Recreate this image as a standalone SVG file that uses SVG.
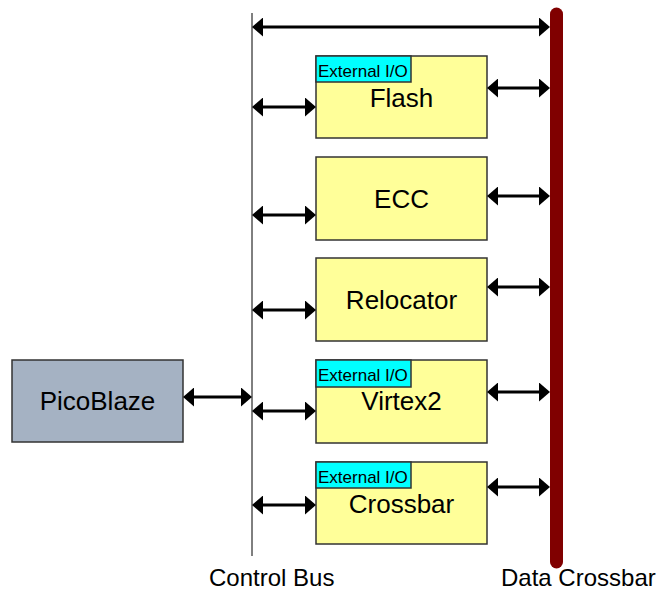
<svg xmlns="http://www.w3.org/2000/svg" width="664" height="599" viewBox="0 0 664 599">
<style>
text{font-family:"Liberation Sans",Arial,sans-serif;fill:#000}
.box{fill:#FFFF99;stroke:#333;stroke-width:1.5}
.pico{fill:#A5B2C3;stroke:#333;stroke-width:1.5}
.ext{fill:#00FFFF;stroke:#333;stroke-width:1.5}
.big{font-size:26px;text-anchor:middle}
.small{font-size:17px}
.lbl{font-size:24px}
.arr{stroke:#000;stroke-width:3;fill:none;marker-start:url(#ah);marker-end:url(#ah)}
</style>
<defs>
<marker id="ah" viewBox="0 0 11 19" refX="3" refY="9.5" markerWidth="11" markerHeight="19" markerUnits="userSpaceOnUse" orient="auto-start-reverse">
<path d="M0,0 L11,9.5 L0,19 z" fill="#000"/>
</marker>
</defs>
<g id="control-bus">
<line x1="252" y1="13" x2="252" y2="556" stroke="#000" stroke-width="1"/>
<text class="lbl" x="209" y="586">Control Bus</text>
</g>
<g id="data-crossbar">
<line x1="556.5" y1="14" x2="556.5" y2="562" stroke="#800000" stroke-width="13" stroke-linecap="round"/>
<text class="lbl" x="501" y="586">Data Crossbar</text>
</g>
<g id="flash">
<rect class="box" x="316" y="56" width="171" height="82"/>
<rect class="ext" x="316" y="56" width="95" height="26"/>
<text class="small" x="318" y="77">External I/O</text>
<text class="big" x="401.5" y="107">Flash</text>
</g>
<g id="ecc">
<rect class="box" x="316" y="157" width="171" height="83"/>
<text class="big" x="401.5" y="208">ECC</text>
</g>
<g id="relocator">
<rect class="box" x="316" y="258" width="171" height="83"/>
<text class="big" x="401.5" y="309">Relocator</text>
</g>
<g id="virtex2">
<rect class="box" x="316" y="360" width="171" height="83"/>
<rect class="ext" x="316" y="360" width="95" height="27"/>
<text class="small" x="318" y="381">External I/O</text>
<text class="big" x="401.5" y="410">Virtex2</text>
</g>
<g id="crossbar">
<rect class="box" x="316" y="462" width="171" height="82"/>
<rect class="ext" x="316" y="462" width="95" height="26"/>
<text class="small" x="318" y="483">External I/O</text>
<text class="big" x="401.5" y="513">Crossbar</text>
</g>
<g id="picoblaze">
<rect class="pico" x="12" y="360" width="171" height="82"/>
<text class="big" x="97.5" y="410">PicoBlaze</text>
</g>
<g id="connectors">
<line class="arr" x1="260" y1="27" x2="542" y2="27"/>
<line class="arr" x1="260" y1="107" x2="308" y2="107"/>
<line class="arr" x1="495" y1="88" x2="542" y2="88"/>
<line class="arr" x1="260" y1="215" x2="308" y2="215"/>
<line class="arr" x1="495" y1="196" x2="542" y2="196"/>
<line class="arr" x1="260" y1="310" x2="308" y2="310"/>
<line class="arr" x1="495" y1="287" x2="542" y2="287"/>
<line class="arr" x1="260" y1="411" x2="308" y2="411"/>
<line class="arr" x1="495" y1="392" x2="542" y2="392"/>
<line class="arr" x1="260" y1="505" x2="308" y2="505"/>
<line class="arr" x1="495" y1="487" x2="542" y2="487"/>
<line class="arr" x1="191" y1="397" x2="244" y2="397"/>
</g>
</svg>
